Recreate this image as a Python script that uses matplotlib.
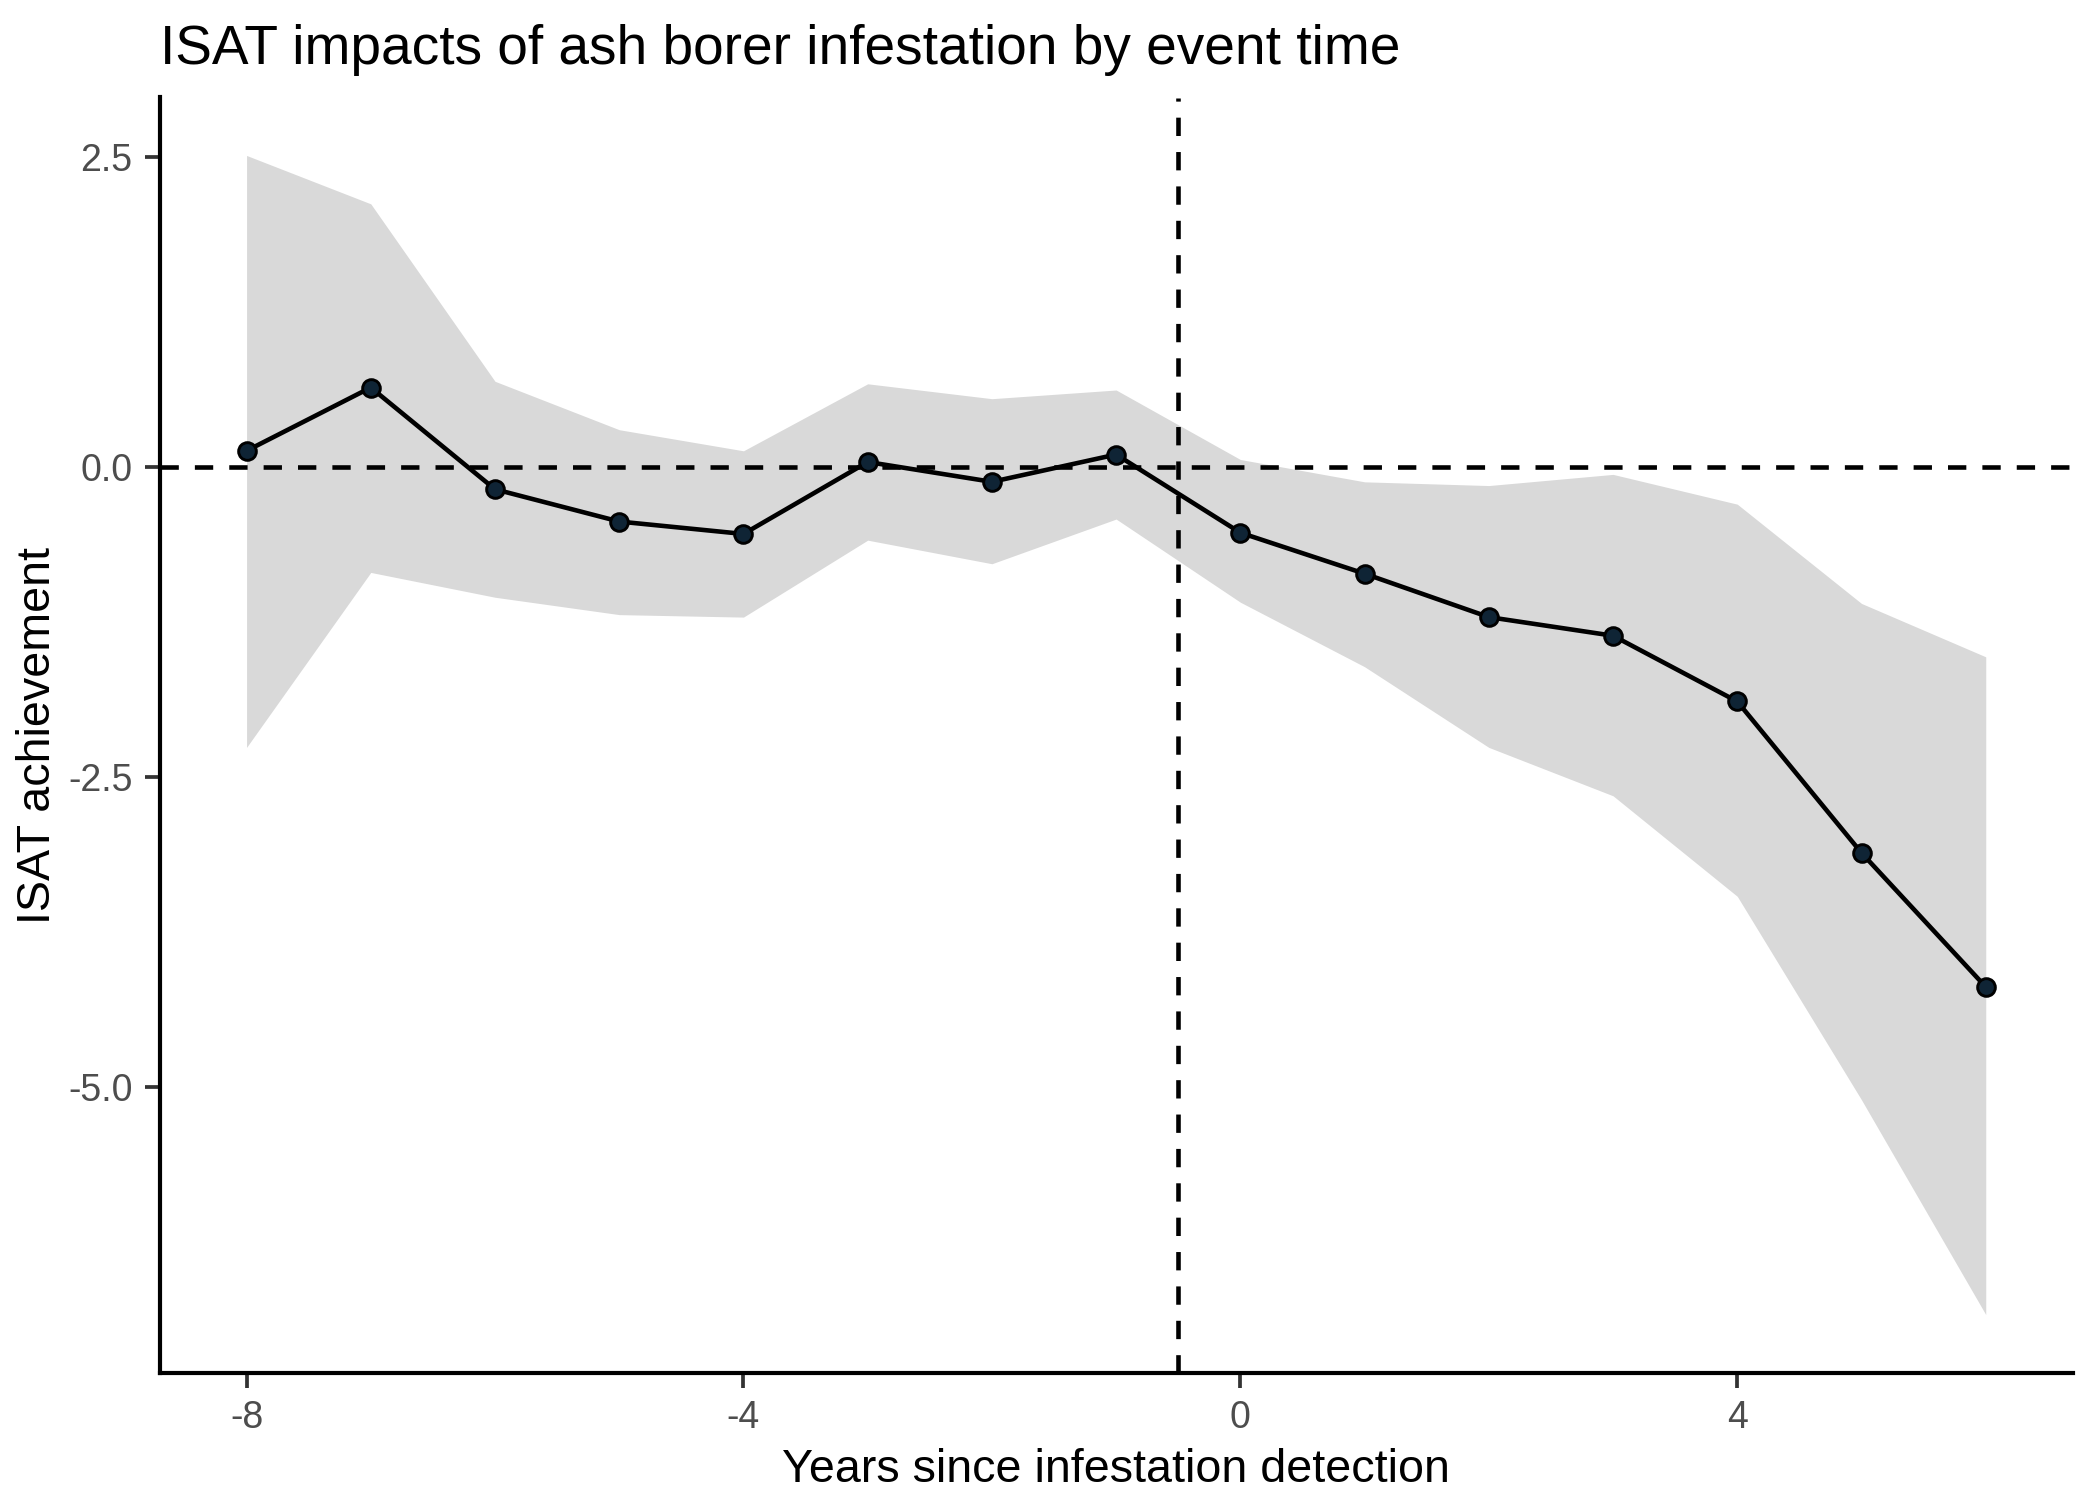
import matplotlib
matplotlib.use("Agg")
import matplotlib.pyplot as plt
import numpy as np

plt.rcParams['font.family'] = ['Liberation Sans', 'DejaVu Sans']

# event time (years since detection)
years = [-8, -7, -6, -5, -4, -3, -2, -1, 0, 1, 2, 3, 4, 5, 6]
# point estimates
estimate = [0.13, 0.64, -0.18, -0.44, -0.54, 0.04, -0.12, 0.10,
            -0.53, -0.86, -1.21, -1.36, -1.89, -3.11, -4.19]
# confidence band
ci_upper = [2.51, 2.12, 0.69, 0.30, 0.13, 0.67, 0.55, 0.62,
            0.06, -0.12, -0.15, -0.06, -0.30, -1.10, -1.53]
ci_lower = [-2.26, -0.85, -1.05, -1.19, -1.21, -0.59, -0.78, -0.42,
            -1.09, -1.61, -2.26, -2.65, -3.46, -5.10, -6.83]

fig = plt.figure(figsize=(7, 5), dpi=300)
ax = fig.add_axes([0.076, 0.085, 0.911, 0.85])

ax.fill_between(years, ci_lower, ci_upper, color='#d9d9d9', linewidth=0, zorder=1)
ax.axhline(0, color='black', linestyle=(0, (4, 3.5)), linewidth=1.1, zorder=2)
ax.axvline(-0.5, color='black', linestyle=(0, (4, 3.5)), linewidth=1.1, zorder=2)
ax.plot(years, estimate, color='black', linewidth=1.1, zorder=3)
ax.scatter(years, estimate, s=18, color='#0f2435', edgecolor='black',
           linewidth=0.7, zorder=4)

lo = min(ci_lower); hi = max(ci_upper)
pad = (hi - lo) * 0.05
ax.set_ylim(lo - pad, hi + pad)
ax.set_xlim(-8.7, 6.7)

ax.set_xticks([-8, -4, 0, 4])
ax.set_xticklabels(['-8', '-4', '0', '4'])
ax.set_yticks([2.5, 0.0, -2.5, -5.0])
ax.set_yticklabels(['2.5', '0.0', '-2.5', '-5.0'])

for s in ['top', 'right']:
    ax.spines[s].set_visible(False)
for s in ['left', 'bottom']:
    ax.spines[s].set_linewidth(1.0)
ax.tick_params(axis='both', length=3.5, width=0.9, color='#333333',
               labelsize=9, labelcolor='#4d4d4d', pad=3)

ax.set_xlabel('Years since infestation detection', fontsize=11.2, labelpad=3)
ax.set_ylabel('ISAT achievement', fontsize=11.2, labelpad=2)
ax.set_title('ISAT impacts of ash borer infestation by event time',
             fontsize=13.2, loc='left', pad=8)

fig.savefig('out.png', dpi=300)
